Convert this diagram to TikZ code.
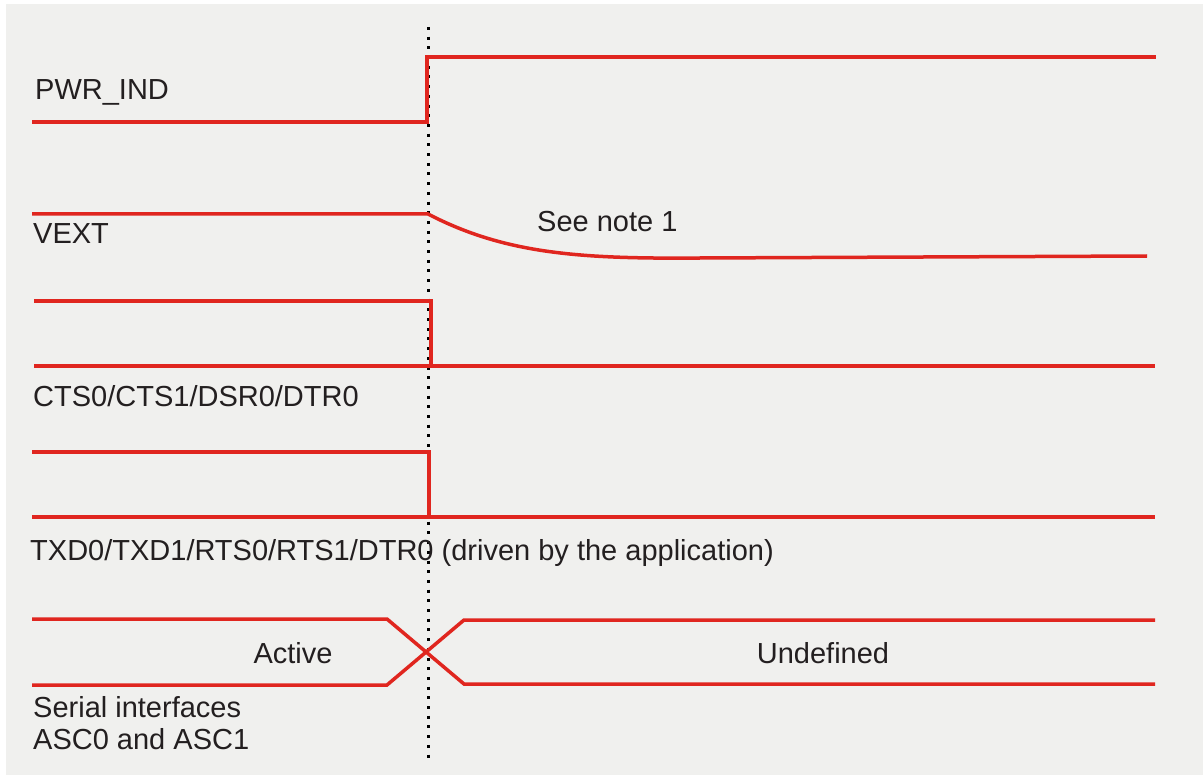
\documentclass[tikz,border=0pt]{standalone}
\usepackage{fontspec}
\setmainfont{Liberation Sans}
\definecolor{bgray}{HTML}{F0F0EE}
\definecolor{sigred}{HTML}{E0261F}
\definecolor{txt}{HTML}{231F20}
\begin{document}
\begin{tikzpicture}[x=1pt,y=-1pt,
  sig/.style={draw=sigred,line width=3.5pt,line join=miter},
  lbl/.style={anchor=base west,inner sep=0pt,text=txt,font=\fontsize{29}{34}\selectfont},
  clbl/.style={anchor=base,inner sep=0pt,text=txt,font=\fontsize{29}{34}\selectfont},
  marker/.style={draw=black,line width=3pt,dash pattern=on 3pt off 6.7pt}]
\useasboundingbox (0,0) rectangle (1203,778);
\fill[white] (0,0) rectangle (1203,778);
\fill[bgray] (6,4) rectangle (1203,775);
% reference instant
\coordinate (t0) at (428,27);
\coordinate (t1) at (428,760);
\draw[marker] (t0) -- (t1);
% PWR_IND
\draw[sig] (32,122) -- (427,122) -- (427,57) -- (1156,57);
\node[lbl] (pwr) at (35,100) {PWR\_IND};
% VEXT
\draw[sig] (32,214) -- (428,214) .. controls (505,254) and (580,259) .. (700,258) -- (1147,256);
\node[lbl] (vext) at (33,244) {VEXT};
\node[lbl] (note) at (537,232) {See note 1};
% CTS
\draw[sig] (34,301) -- (431,301) -- (431,366);
\draw[sig] (34,366) -- (1155,366);
\node[lbl] (cts) at (33,406) {CTS0/CTS1/DSR0/DTR0};
% TXD
\draw[sig] (32,452) -- (429,452) -- (429,517);
\draw[sig] (32,517) -- (1155,517);
\node[lbl] (txd) at (30,560) {TXD0/TXD1/RTS0/RTS1/DTR0 (driven by the application)};
% Serial interfaces
\draw[sig] (32,619) -- (387,619) -- (464,684) -- (1155,684);
\draw[sig] (32,685) -- (387,685) -- (464,620) -- (1155,620);
\node[clbl] (active) at (293,663) {Active};
\node[clbl] (undef) at (823,663) {Undefined};
\node[lbl] (ser1) at (33,717) {Serial interfaces};
\node[lbl] (ser2) at (33,749) {ASC0 and ASC1};
\end{tikzpicture}
\end{document}
